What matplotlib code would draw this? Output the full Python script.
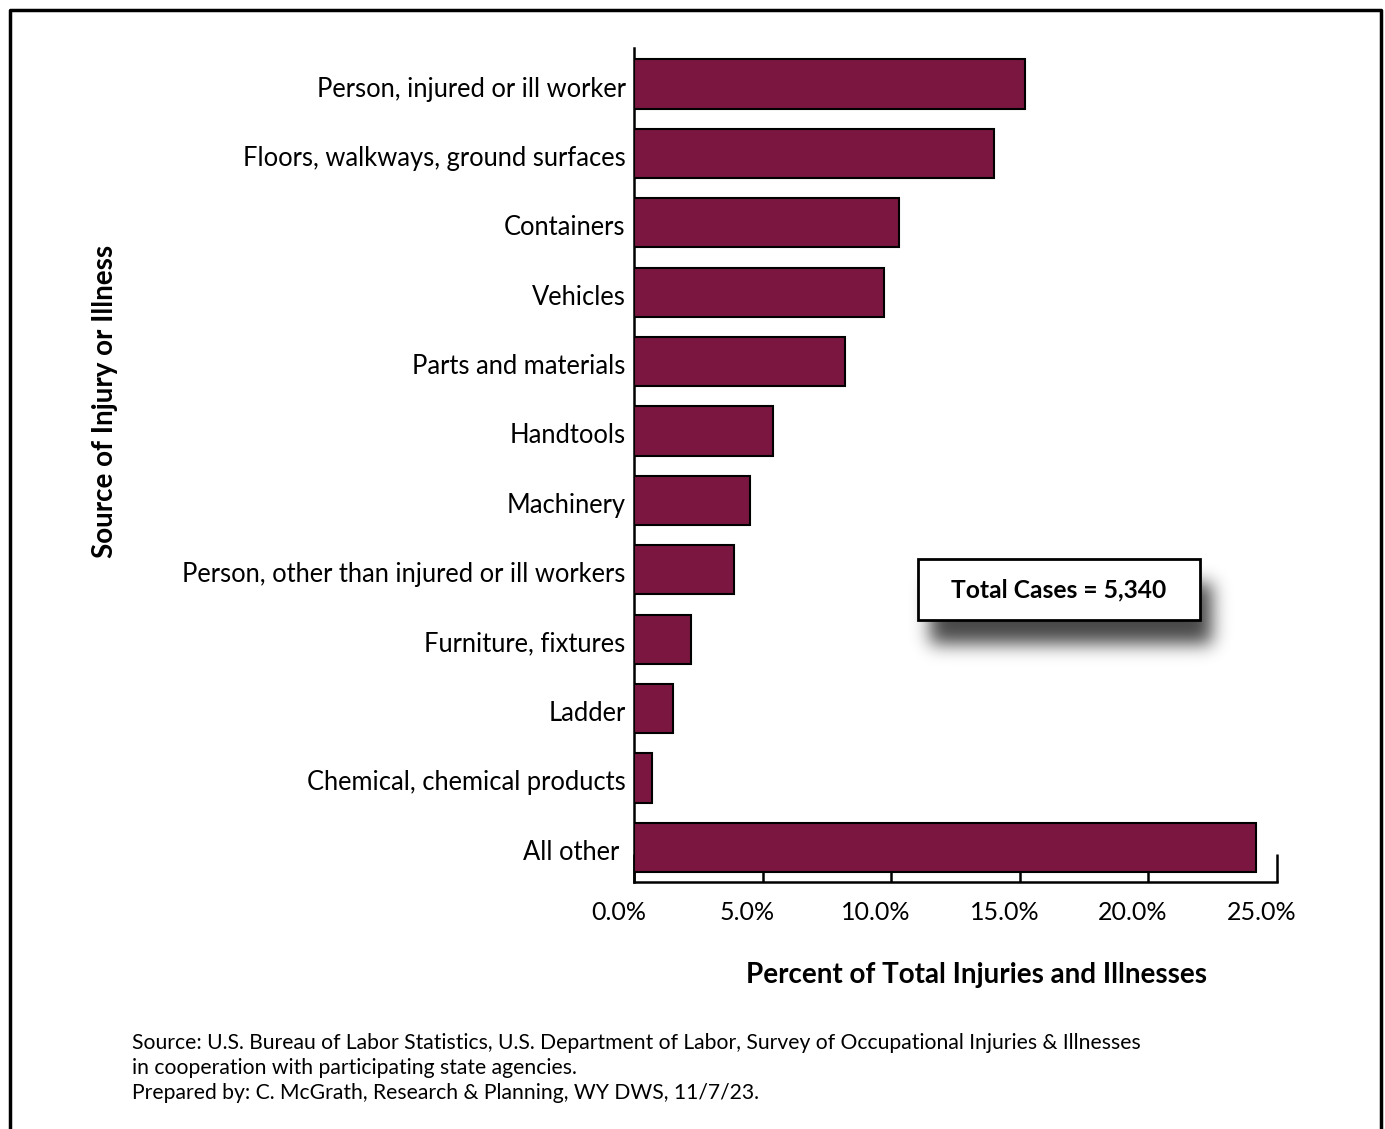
import numpy as np
import matplotlib.pyplot as plt
from matplotlib.patches import Rectangle
from matplotlib.lines import Line2D
from matplotlib.transforms import ScaledTranslation

plt.rcParams["font.family"] = ["Lato", "DejaVu Sans"]

sources = [
    "Person, injured or ill worker",
    "Floors, walkways, ground surfaces",
    "Containers",
    "Vehicles",
    "Parts and materials",
    "Handtools",
    "Machinery",
    "Person, other than injured or ill workers",
    "Furniture, fixtures",
    "Ladder",
    "Chemical, chemical products",
    "All other ",
]
percent = [15.2, 14.0, 10.3, 9.7, 8.2, 5.4, 4.5, 3.9, 2.2, 1.5, 0.7, 24.2]
x_ticks = [0, 5, 10, 15, 20, 25]
total_cases = "5,340"

W, H = 1385, 1129
fig = plt.figure(figsize=(W / 100, H / 100), dpi=100)
ax = fig.add_axes([0.4578, 0.2188, 0.4642, 0.7387])

ax.set_axisbelow(True)
ax.barh(range(len(sources)), percent, height=0.71, color="#7A1640",
        edgecolor="black", linewidth=1.5, zorder=3)

ax.set_ylim(len(sources) - 0.5, -0.52)
ax.set_xlim(0, 25)
ax.set_yticks(range(len(sources)))
ax.set_yticklabels(sources, fontsize=18.4)
ax.tick_params(axis="y", length=0, pad=6)
ax.set_xticks(x_ticks)
ax.set_xticklabels([f"{t:.1f}%" for t in x_ticks], fontsize=18)
ax.tick_params(axis="x", direction="in", length=20, width=1.8, pad=14)

# the original shifts x labels a little left of their ticks, y labels down
for lab in ax.get_xticklabels():
    lab.set_transform(lab.get_transform()
                      + ScaledTranslation(-0.155, 0, fig.dpi_scale_trans))
for lab in ax.get_yticklabels():
    lab.set_transform(lab.get_transform()
                      + ScaledTranslation(0, -0.025, fig.dpi_scale_trans))

for side in ["top", "right"]:
    ax.spines[side].set_visible(False)
for side in ["left", "bottom"]:
    ax.spines[side].set_linewidth(1.8)

fig.text(0.705, 0.136, "Percent of Total Injuries and Illnesses",
         fontsize=20, fontweight="bold", ha="center", va="center")
fig.text(0.076, 0.644, "Source of Injury or Illness", fontsize=20,
         fontweight="bold", rotation=90, ha="center", va="center")

# Total cases box, with a blurred drop shadow
bx0, bx1, by0, by1 = 918, 1200, 559, 620          # pixel box (top-left origin)
pad = 45
sx0, sx1, sy0, sy1 = bx0 - pad, bx1 + pad + 20, by0 - pad, by1 + pad + 30
mask = np.zeros((sy1 - sy0, sx1 - sx0))
mask[(by0 + 24 - sy0):(by1 + 24 - sy0), (bx0 + 12 - sx0):(bx1 + 12 - sx0)] = 1
k = np.exp(-0.5 * (np.arange(-30, 31) / 9.0) ** 2)
k /= k.sum()
mask = np.apply_along_axis(lambda r: np.convolve(r, k, mode="same"), 1, mask)
mask = np.apply_along_axis(lambda c: np.convolve(c, k, mode="same"), 0, mask)
rgba = np.zeros(mask.shape + (4,))
rgba[..., 3] = mask * 0.72
sh_ax = fig.add_axes([sx0 / W, 1 - sy1 / H, (sx1 - sx0) / W, (sy1 - sy0) / H],
                     zorder=4)
sh_ax.imshow(rgba, aspect="auto", interpolation="bilinear")
sh_ax.axis("off")

box_ax = fig.add_axes([0, 0, 1, 1], zorder=5)
box_ax.axis("off")
box_ax.patch.set_alpha(0)
box_ax.add_patch(Rectangle((bx0 / W, 1 - by1 / H), (bx1 - bx0) / W,
                           (by1 - by0) / H, facecolor="white",
                           edgecolor="black", linewidth=2))
box_ax.text((bx0 + bx1) / 2 / W, 1 - (by0 + by1) / 2 / H,
            f"Total Cases = {total_cases}", fontsize=17.7,
            fontweight="bold", ha="center", va="center")

# Source notes
notes = ("Source: U.S. Bureau of Labor Statistics, U.S. Department of Labor, "
         "Survey of Occupational Injuries & Illnesses\n"
         "in cooperation with participating state agencies.\n"
         "Prepared by: C. McGrath, Research & Planning, WY DWS, 11/7/23.")
box_ax.text(0.0953, 1 - 1068 / H, notes, fontsize=15.2, ha="left",
            va="center", linespacing=1.33)

# Outer frame (open at the bottom)
fx0, fx1, fy1 = 10 / W, 1381 / W, 1 - 10 / H
box_ax.add_line(Line2D([fx0, fx0, fx1, fx1], [0, fy1, fy1, 0],
                       color="black", linewidth=2.5))
box_ax.set_xlim(0, 1)
box_ax.set_ylim(0, 1)

fig.savefig("out.png", dpi=100)
